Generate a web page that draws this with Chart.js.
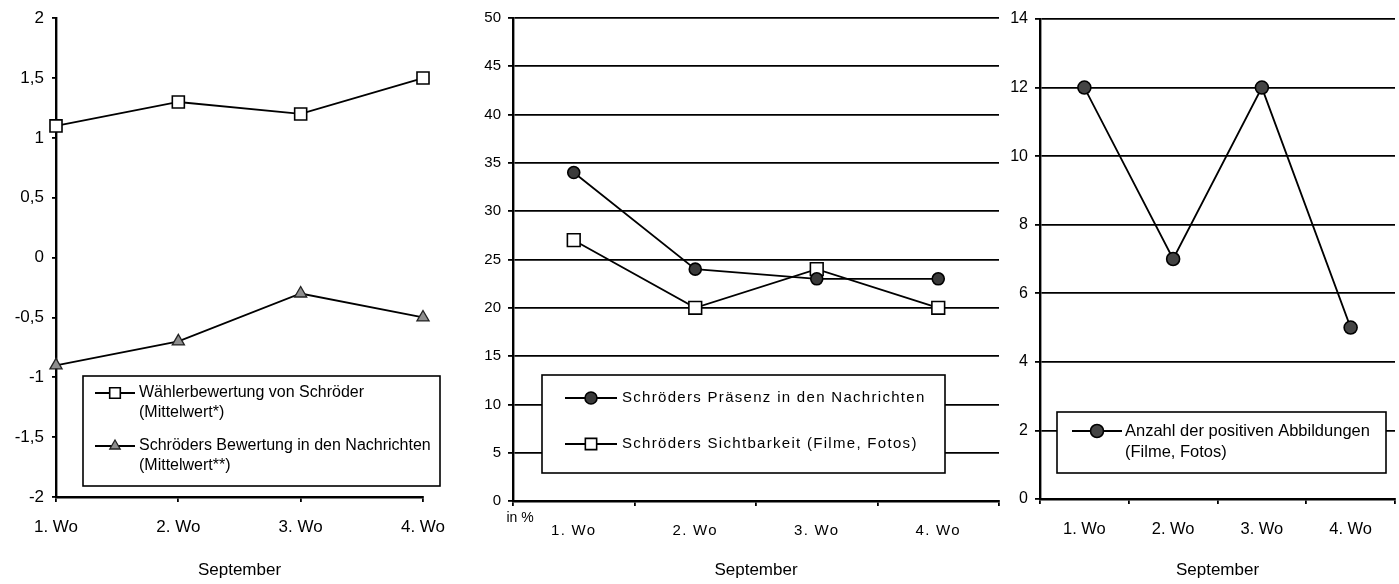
<!DOCTYPE html>
<html>
<head>
<meta charset="utf-8">
<script src="https://cdn.jsdelivr.net/npm/chart.js@4.4.1/dist/chart.umd.min.js"></script>
<style>
  html, body { margin: 0; padding: 0; background: #fff; }
  #wrap { position: relative; width: 1399px; height: 584px; overflow: hidden; }
  canvas { position: absolute; top: 0; }
</style>
</head>
<body>
<div id="wrap">
  <canvas id="c1" width="470" height="584" style="left:0px"></canvas>
  <canvas id="c2" width="535" height="584" style="left:470px"></canvas>
  <canvas id="c3" width="394" height="584" style="left:1005px"></canvas>
</div>
<script>
// Weeks of September on every x axis
const weeks = ['1. Wo', '2. Wo', '3. Wo', '4. Wo'];
const monthTitle = 'September';

// Left panel: ratings (mean values)
const voterRating = [1.1, 1.3, 1.2, 1.5];
const newsRating = [-0.9, -0.7, -0.3, -0.5];
const ratingTickLabels = ['-2', '-1,5', '-1', '-0,5', '0', '0,5', '1', '1,5', '2'];
const ratingLegend = [
  ['Wählerbewertung von Schröder', '(Mittelwert*)'],
  ['Schröders Bewertung in den Nachrichten', '(Mittelwert**)']
];

// Middle panel: presence and visibility in percent
const newsPresence = [34, 24, 23, 23];
const visibility = [27, 20, 24, 20];
const percentTickLabels = ['0', '5', '10', '15', '20', '25', '30', '35', '40', '45', '50'];
const percentLegend = [
  ['Schröders Präsenz in den Nachrichten'],
  ['Schröders Sichtbarkeit (Filme, Fotos)']
];
const percentUnit = 'in %';

// Right panel: number of positive pictures
const positiveImages = [12, 7, 12, 5];
const countTickLabels = ['0', '2', '4', '6', '8', '10', '12', '14'];
const countLegend = [
  ['Anzahl der positiven Abbildungen', '(Filme, Fotos)']
];

const FONT = "'Liberation Sans', Arial, sans-serif";
Chart.defaults.font.family = FONT;
Chart.defaults.color = '#000';
Chart.defaults.devicePixelRatio = 1;

const LINE_W = 1.8;
const GRID_W = 1.8;
const AXIS_W = 2.4;

// Framed legend drawn inside the plot area
const boxLegend = {
  id: 'boxLegend',
  afterDatasetsDraw(chart, args, o) {
    if (!o || !o.box) return;
    const ctx = chart.ctx;
    const b = o.box;
    ctx.save();
    ctx.fillStyle = '#fff';
    ctx.fillRect(b.x, b.y, b.w, b.h);
    ctx.lineWidth = 1.6;
    ctx.strokeStyle = '#000';
    ctx.strokeRect(b.x, b.y, b.w, b.h);
    ctx.font = o.font;
    ctx.letterSpacing = o.letterSpacing || '0px';
    o.rows.forEach(r => {
      const ds = chart.data.datasets[r.dataset];
      ctx.beginPath();
      ctx.moveTo(r.x0, r.y);
      ctx.lineTo(r.x1, r.y);
      ctx.lineWidth = ds.borderWidth;
      ctx.strokeStyle = ds.borderColor;
      ctx.stroke();
      ctx.fillStyle = ds.pointBackgroundColor;
      ctx.strokeStyle = ds.pointBorderColor;
      ctx.lineWidth = ds.pointBorderWidth;
      Chart.helpers.drawPoint(ctx, {
        pointStyle: ds.pointStyle,
        radius: r.radius || ds.pointRadius,
        borderWidth: ds.pointBorderWidth,
        rotation: 0
      }, (r.x0 + r.x1) / 2, r.y);
      ctx.fillStyle = '#000';
      ctx.textAlign = 'left';
      ctx.textBaseline = 'middle';
      r.lines.forEach((t, i) => ctx.fillText(t, r.tx, r.y + i * o.lineGap));
    });
    ctx.restore();
  }
};

// Spaced lettering for the category labels of one chart
const spacedLabels = {
  id: 'spacedLabels',
  afterLayout(chart, args, o) {
    if (!o || !o.spacing) return;
    const sx = chart.scales.x;
    if (sx._spacedWrap) return;
    const orig = sx.drawLabels.bind(sx);
    sx.drawLabels = (area) => {
      chart.ctx.save();
      chart.ctx.letterSpacing = o.spacing;
      orig(area);
      chart.ctx.restore();
    };
    sx._spacedWrap = true;
  }
};

// Unit note under the y axis
const unitNote = {
  id: 'unitNote',
  afterDraw(chart, args, o) {
    if (!o || !o.text) return;
    const ctx = chart.ctx;
    ctx.save();
    ctx.font = o.font;
    ctx.fillStyle = '#000';
    ctx.textAlign = 'center';
    ctx.textBaseline = 'middle';
    ctx.fillText(o.text, chart.chartArea.left + o.dx, chart.chartArea.bottom + o.dy);
    ctx.restore();
  }
};

function fixWidth(w) { return s => { s.width = w; }; }
function fixHeight(h) { return s => { s.height = h; }; }

function xScale(opts) {
  return {
    type: 'category',
    offset: opts.offset,
    afterFit: fixHeight(opts.height),
    grid: {
      display: true, drawOnChartArea: false, drawTicks: true,
      tickLength: 5, color: '#000', lineWidth: GRID_W, offset: opts.offset
    },
    border: { display: true, color: '#000', width: AXIS_W },
    ticks: { font: { size: opts.tickSize }, padding: opts.pad, maxRotation: 0, autoSkip: false, color: '#000' },
    title: {
      display: true, text: monthTitle, color: '#000',
      font: { size: 17 }, padding: { top: 0, bottom: 3 }
    }
  };
}

function yScale(opts) {
  return {
    min: opts.min, max: opts.max,
    afterFit: fixWidth(opts.width),
    afterBuildTicks: s => { s.ticks = opts.labels.map((l, i) => ({ value: opts.min + i * opts.step })); },
    grid: {
      display: true, drawOnChartArea: opts.gridOn, drawTicks: true,
      tickLength: opts.tickLen, color: '#000', lineWidth: GRID_W
    },
    border: { display: true, color: '#000', width: AXIS_W },
    ticks: {
      font: { size: opts.tickSize }, padding: opts.pad, color: '#000',
      callback: (v, i) => opts.labels[i]
    }
  };
}

const baseOpts = {
  responsive: false,
  animation: false,
  events: [],
  plugins: { legend: { display: false }, tooltip: { enabled: false }, title: { display: false } }
};

// Left panel
new Chart(document.getElementById('c1'), {
  type: 'line',
  data: {
    labels: weeks,
    datasets: [
      {
        label: ratingLegend[0].join(' '), data: voterRating,
        borderColor: '#000', borderWidth: LINE_W,
        pointStyle: 'rect', pointRadius: 8.5, pointBackgroundColor: '#fff',
        pointBorderColor: '#000', pointBorderWidth: 1.6, clip: false
      },
      {
        label: ratingLegend[1].join(' '), data: newsRating,
        borderColor: '#000', borderWidth: LINE_W,
        pointStyle: 'triangle', pointRadius: 7, pointBackgroundColor: '#8e8e8e',
        pointBorderColor: '#222', pointBorderWidth: 1.3, clip: false
      }
    ]
  },
  options: Object.assign({}, baseOpts, {
    layout: { autoPadding: false, padding: { left: 0, right: 47, top: 16, bottom: 0 } },
    scales: {
      x: xScale({ offset: false, height: 87, tickSize: 17, pad: 15 }),
      y: yScale({ min: -2, max: 2, step: 0.5, labels: ratingTickLabels, width: 56, gridOn: false, tickLen: 4, tickSize: 17, pad: 8 })
    },
    plugins: Object.assign({}, baseOpts.plugins, {
      boxLegend: {
        box: { x: 83, y: 376, w: 357, h: 110 },
        font: '16px ' + FONT, lineGap: 20,
        rows: [
          { dataset: 0, x0: 95, x1: 135, y: 393, tx: 139, lines: ratingLegend[0], radius: 7.5 },
          { dataset: 1, x0: 95, x1: 135, y: 446, tx: 139, lines: ratingLegend[1], radius: 6 }
        ]
      }
    })
  }),
  plugins: [boxLegend]
});

// Middle panel
new Chart(document.getElementById('c2'), {
  type: 'line',
  data: {
    labels: weeks,
    datasets: [
      {
        label: percentLegend[0][0], data: newsPresence,
        borderColor: '#000', borderWidth: LINE_W,
        pointStyle: 'circle', pointRadius: 6, pointBackgroundColor: '#3a3a3a',
        pointBorderColor: '#000', pointBorderWidth: 1.6, clip: false
      },
      {
        label: percentLegend[1][0], data: visibility,
        borderColor: '#000', borderWidth: LINE_W,
        pointStyle: 'rect', pointRadius: 9, pointBackgroundColor: '#fff',
        pointBorderColor: '#000', pointBorderWidth: 1.6, clip: false
      }
    ]
  },
  options: Object.assign({}, baseOpts, {
    layout: { autoPadding: false, padding: { left: 0, right: 6, top: 18, bottom: 0 } },
    scales: {
      x: xScale({ offset: true, height: 83, tickSize: 15, pad: 16 }),
      y: yScale({ min: 0, max: 50, step: 5, labels: percentTickLabels, width: 43, gridOn: true, tickLen: 5, tickSize: 15, pad: 7 })
    },
    plugins: Object.assign({}, baseOpts.plugins, {
      spacedLabels: { spacing: '1.3px' },
      unitNote: { text: percentUnit, font: '14px ' + FONT, dx: 7, dy: 17 },
      boxLegend: {
        box: { x: 542 - 470, y: 375, w: 403, h: 98 },
        font: '15px ' + FONT, lineGap: 20, letterSpacing: '1.3px',
        rows: [
          { dataset: 0, x0: 565 - 470, x1: 617 - 470, y: 398, tx: 622 - 470, lines: percentLegend[0] },
          { dataset: 1, x0: 565 - 470, x1: 617 - 470, y: 444, tx: 622 - 470, lines: percentLegend[1], radius: 8 }
        ]
      }
    })
  }),
  plugins: [spacedLabels, boxLegend, unitNote]
});

// Right panel
new Chart(document.getElementById('c3'), {
  type: 'line',
  data: {
    labels: weeks,
    datasets: [
      {
        label: countLegend[0].join(' '), data: positiveImages,
        borderColor: '#000', borderWidth: LINE_W,
        pointStyle: 'circle', pointRadius: 6.5, pointBackgroundColor: '#444',
        pointBorderColor: '#000', pointBorderWidth: 1.6, clip: false
      }
    ]
  },
  options: Object.assign({}, baseOpts, {
    layout: { autoPadding: false, padding: { left: 0, right: 4, top: 19, bottom: 0 } },
    scales: {
      x: xScale({ offset: true, height: 85, tickSize: 16.5, pad: 16 }),
      y: yScale({ min: 0, max: 14, step: 2, labels: countTickLabels, width: 35, gridOn: true, tickLen: 5, tickSize: 16, pad: 7 })
    },
    plugins: Object.assign({}, baseOpts.plugins, {
      boxLegend: {
        box: { x: 1057 - 1005, y: 412, w: 329, h: 61 },
        font: '16.5px ' + FONT, lineGap: 21,
        rows: [
          { dataset: 0, x0: 1072 - 1005, x1: 1122 - 1005, y: 431, tx: 1125 - 1005, lines: countLegend[0] }
        ]
      }
    })
  }),
  plugins: [boxLegend]
});
</script>
</body>
</html>
